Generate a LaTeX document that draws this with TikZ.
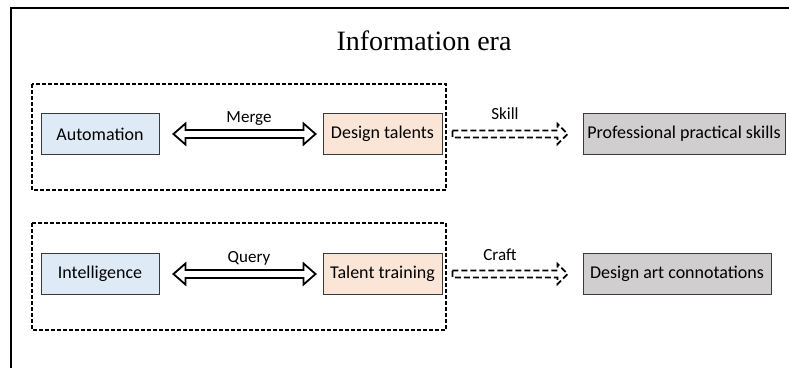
\documentclass[tikz,border=0pt]{standalone}
\usepackage{fontspec}
\setmainfont{Carlito}
\newfontfamily\titlefont{Liberation Serif}
\usetikzlibrary{calc}

\definecolor{boxblue}{HTML}{DEEBF7}
\definecolor{boxpeach}{HTML}{FBE5D6}
\definecolor{boxgray}{HTML}{D0CECE}
\definecolor{boxline}{HTML}{3A3A3A}

\tikzset{
  infobox/.style={draw=boxline, line width=0.9pt, inner sep=0pt, minimum height=41pt,
    font=\fontsize{18}{20}\selectfont},
  groupbox/.style={draw, line width=1.1pt, dash pattern=on 4pt off 2pt},
  blockarrow/.style={draw, fill=white, line width=1.8pt, line join=miter},
  dashedarrow/.style={draw, line width=1.8pt, dash pattern=on 6pt off 3pt, line join=miter},
  arrowlabel/.style={anchor=base, inner sep=0pt, font=\fontsize{17}{19}\selectfont}
}

\begin{document}
\begin{tikzpicture}[x=1pt, y=-1pt]
\useasboundingbox (0,0) rectangle (789,367);
\clip (0,0) rectangle (789,367);
% outer frame (runs off the page)
\draw[line width=1.6pt] (11,380) -- (11,8) -- (800,8);
\node[anchor=base, inner sep=0pt, font=\titlefont\fontsize{28}{30}\selectfont] (title) at (424,50) {Information era};
% group boxes
\draw[groupbox] (32,84) rectangle (446,190);
\draw[groupbox] (32,223) rectangle (446,330);
% first row
\node[infobox, fill=boxblue, minimum width=118pt] (auto) at (100,134) {Automation};
\node[infobox, fill=boxpeach, minimum width=119pt] (design) at (382.5,134) {Design talents};
\node[infobox, fill=boxgray, minimum width=202pt] (pro) at (684,134) {Professional practical skills};
% second row
\node[infobox, fill=boxblue, minimum width=118pt] (intel) at (100,274) {Intelligence};
\node[infobox, fill=boxpeach, minimum width=119pt] (train) at (382.5,274) {Talent training};
\node[infobox, fill=boxgray, minimum width=188pt] (art) at (677,274) {Design art connotations};
% double arrows
\draw[blockarrow] let \p1=([xshift=14pt]auto.east), \p2=([xshift=-7pt]design.west) in
  (\p1) -- (\x1+12pt,\y1+10.5pt) -- (\x1+12pt,\y1+4pt) -- (\x2-12pt,\y2+4pt) -- (\x2-12pt,\y2+10.5pt)
  -- (\p2) -- (\x2-12pt,\y2-10.5pt) -- (\x2-12pt,\y2-4pt) -- (\x1+12pt,\y1-4pt) -- (\x1+12pt,\y1-10.5pt) -- cycle;
\draw[blockarrow] let \p1=([xshift=14pt]intel.east), \p2=([xshift=-7pt]train.west) in
  (\p1) -- (\x1+12pt,\y1+10.5pt) -- (\x1+12pt,\y1+4pt) -- (\x2-12pt,\y2+4pt) -- (\x2-12pt,\y2+10.5pt)
  -- (\p2) -- (\x2-12pt,\y2-10.5pt) -- (\x2-12pt,\y2-4pt) -- (\x1+12pt,\y1-4pt) -- (\x1+12pt,\y1-10.5pt) -- cycle;
% dashed arrows
\draw[dashedarrow] let \p1=([xshift=10pt]design.east), \p2=([xshift=-15pt]pro.west) in
  (\x1,\y1+3.5pt) -- (\x2-10pt,\y2+3.5pt) -- (\x2-10pt,\y2+10pt) -- (\p2) -- (\x2-10pt,\y2-10pt)
  -- (\x2-10pt,\y2-3.5pt) -- (\x1,\y1-3.5pt) -- cycle;
\draw[dashedarrow] let \p1=([xshift=10pt]train.east), \p2=([xshift=-15pt]art.west) in
  (\x1,\y1+3.5pt) -- (\x2-10pt,\y2+3.5pt) -- (\x2-10pt,\y2+10pt) -- (\p2) -- (\x2-10pt,\y2-10pt)
  -- (\x2-10pt,\y2-3.5pt) -- (\x1,\y1-3.5pt) -- cycle;
% labels
\node[arrowlabel] (merge) at (249,122) {Merge};
\node[arrowlabel] (skill) at (505,119) {Skill};
\node[arrowlabel] (query) at (249,262) {Query};
\node[arrowlabel] (craft) at (500,260) {Craft};
\end{tikzpicture}
\end{document}
